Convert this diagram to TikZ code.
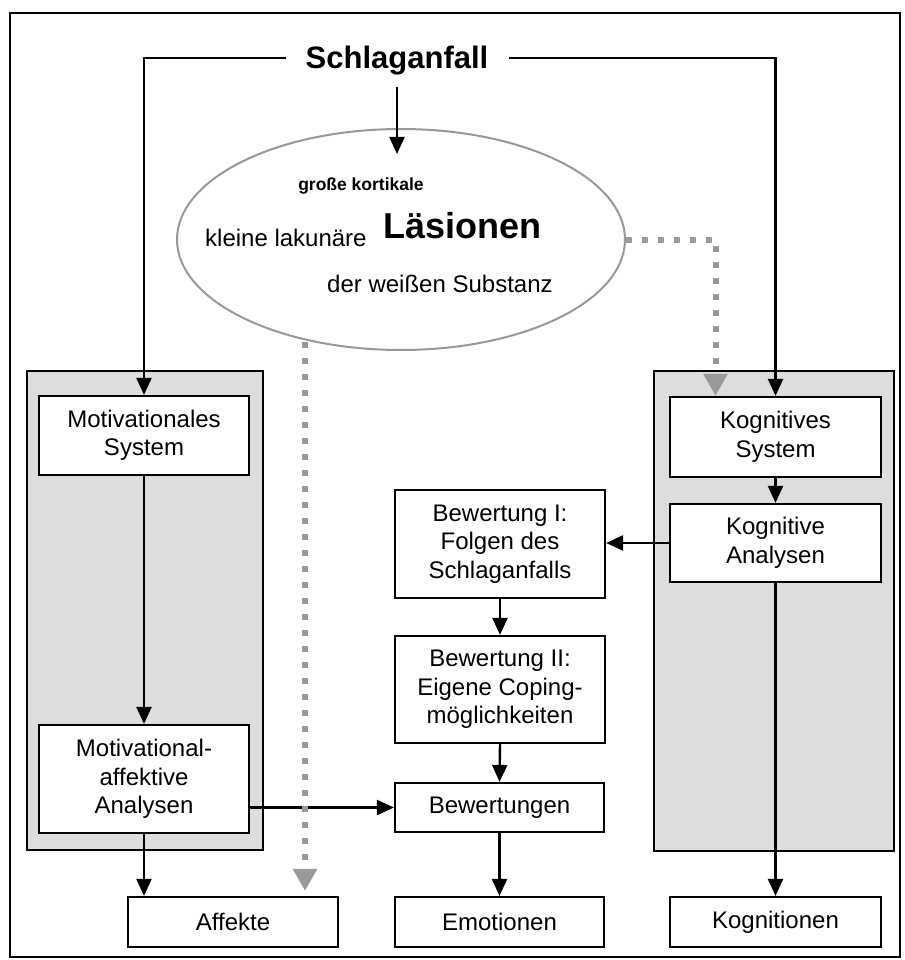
\documentclass[tikz,border=0pt]{standalone}
\usepackage{fontspec}
\setmainfont{Liberation Sans}
\usetikzlibrary{arrows.meta,shapes.geometric,calc}
\definecolor{panelgray}{HTML}{DDDDDD}
\definecolor{linegray}{HTML}{999999}
\begin{document}
\begin{tikzpicture}[x=1pt,y=-1pt,
  box/.style={draw=black,line width=2.2pt,fill=white,minimum width=210pt,inner sep=0pt,align=center,font=\fontsize{24}{28.5}\selectfont},
  panel/.style={draw=black,line width=2.2pt,fill=panelgray},
  arr/.style={line width=2.4pt,-{Triangle[length=17pt,width=15pt]}},
  dotarr/.style={draw=linegray,line width=6pt,dash pattern=on 6pt off 10pt,-{Triangle[length=22pt,width=23pt]}},
  etext/.style={inner sep=0pt,anchor=base west,font=\fontsize{24}{28}\selectfont},
]
\useasboundingbox (0,0) rectangle (904,960);
\fill[white] (0,0) rectangle (904,960);
\draw[line width=1.8pt] (10,13) rectangle (900,957);

% panels
\draw[panel] (27,371) rectangle (263,850);
\draw[panel] (654,371) rectangle (894,851);

% title
\node[font=\fontsize{31}{31}\selectfont\bfseries,text height=22pt,text depth=0pt,inner xsep=20pt,inner ysep=18pt] (schlag) at (397,58) {Schlaganfall};

% ellipse
\node[ellipse,draw=linegray,line width=2pt,minimum width=448pt,minimum height=221pt,inner sep=0pt,fill=white] (ell) at (401,239.5) {};
\node[inner sep=0pt,anchor=base,font=\fontsize{17.5}{17.5}\selectfont\bfseries] (gross) at (361,190) {große kortikale};
\node[etext] (klein) at (205,246) {kleine lakunäre};
\node[etext,font=\fontsize{36}{36}\selectfont\bfseries] (laes) at (383,238) {Läsionen};
\node[etext] (weiss) at (327,292) {der weißen Substanz};

% boxes
\node[box,minimum height=79pt] (motsys) at (144,435.5) {Motivationales\\System};
\node[box,minimum height=108pt] (mota) at (144,779) {Motivational-\\affektive\\Analysen};
\node[box,minimum width=211pt,minimum height=80pt] (kogsys) at (775.5,437) {Kognitives\\System};
\node[box,minimum width=211pt,minimum height=78pt] (kogan) at (775.5,543) {Kognitive\\Analysen};
\node[box,minimum height=108pt] (bw1) at (500,544) {Bewertung I:\\Folgen des\\Schlaganfalls};
\node[box,minimum height=107pt] (coping) at (500,689.5) {Bewertung II:\\Eigene Coping-\\möglichkeiten};
\node[box,minimum width=209pt,minimum height=49pt] (bew) at (499.5,807.5) {Bewertungen};
\node[box,minimum height=50pt] (affekte) at (233,922) {Affekte};
\node[box,minimum width=209pt,minimum height=50pt] (emo) at (499.5,922) {Emotionen};
\node[box,minimum width=211pt,minimum height=50pt] (kogn) at (775.5,922) {Kognitionen};

% connectors
\draw[arr] (schlag.west) -| (motsys.north);
\draw[arr] (schlag.east) -| (kogsys.north);
\draw[arr] (schlag.south) -- ($(schlag.south |- ell.north)+(0,26)$);
\draw[arr] (motsys.south) -- (mota.north);
\draw[arr] (mota.south) -- (mota.south |- affekte.north);
\draw[arr] (bew.west -| mota.east) -- (bew.west);
\draw[arr] (bw1.south) -- (coping.north);
\draw[arr] (coping.south) -- (bew.north);
\draw[arr] (bew.south) -- (emo.north);
\draw[arr] (kogsys.south) -- (kogan.north);
\draw[arr] (kogan.west) -- (kogan.west -| bw1.east);
\draw[arr] (kogan.south) -- (kogn.north);

% dotted gray connectors
\draw[dotarr] (ell.east) -| ([xshift=-60pt]kogsys.north);
\draw[dotarr] ($(affekte.north |- ell.south)+(72,-9)$) -- ($(affekte.north)+(72,-5)$);
\end{tikzpicture}
\end{document}
